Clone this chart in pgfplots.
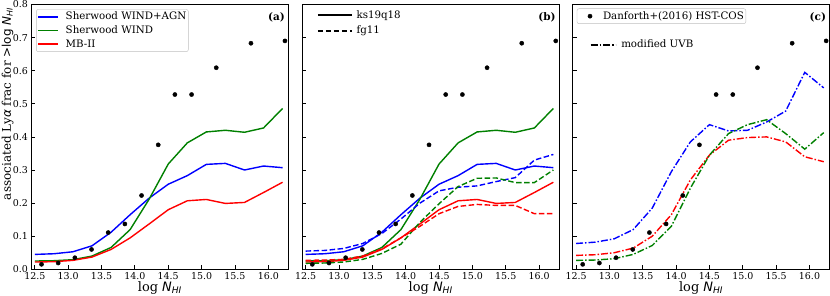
\documentclass[border=0pt]{standalone}
\usepackage{fontspec}
\setmainfont{DejaVu Serif}
\newfontfamily\dvs{DejaVu Sans}
\usepackage{pgfplots}
\usepackage{pgfplotstable}
\pgfplotsset{compat=1.18}

\definecolor{mgreen}{RGB}{0,128,0}

\pgfplotstableread{
x y
12.6 0.015
12.85 0.019
13.1 0.035
13.35 0.060
13.6 0.111
13.85 0.137
14.1 0.223
14.35 0.376
14.6 0.528
14.85 0.528
15.22 0.609
15.74 0.683
16.25 0.690
}\danforth

% columns: x, blue solid, green solid, red solid, blue dashed, green dashed, red dashed, blue dashdot, green dashdot, red dashdot
\pgfplotstableread{
x bs gs rs bd gd rd bc gc rc
12.5   0.045 0.025 0.022 0.055 0.018 0.027 0.078 0.027 0.042
12.786 0.047 0.026 0.023 0.057 0.019 0.028 0.082 0.028 0.044
13.071 0.053 0.029 0.027 0.063 0.022 0.030 0.092 0.032 0.050
13.357 0.071 0.040 0.037 0.078 0.030 0.040 0.120 0.045 0.064
13.643 0.112 0.066 0.060 0.108 0.048 0.062 0.185 0.072 0.100
13.929 0.165 0.120 0.095 0.152 0.076 0.095 0.295 0.130 0.165
14.214 0.215 0.212 0.137 0.200 0.142 0.130 0.385 0.245 0.270
14.5   0.257 0.318 0.180 0.237 0.198 0.168 0.437 0.345 0.345
14.786 0.283 0.382 0.207 0.248 0.250 0.190 0.418 0.410 0.390
15.071 0.317 0.415 0.211 0.252 0.275 0.196 0.420 0.437 0.398
15.357 0.320 0.420 0.199 0.265 0.276 0.193 0.445 0.452 0.400
15.643 0.300 0.414 0.202 0.277 0.262 0.193 0.478 0.410 0.385
15.929 0.312 0.427 0.232 0.330 0.262 0.168 0.595 0.363 0.340
16.214 0.307 0.486 0.263 0.347 0.300 0.168 0.548 0.413 0.325
}\sims

\tikzset{plabel/.style={font=\bfseries\fontsize{10.5}{12}\selectfont, inner sep=0pt, anchor=north east}}

\pgfplotsset{
  panel/.style={
    width=256.8bp, height=264.8bp, scale only axis,
    xmin=12.45, xmax=16.3, ymin=0, ymax=0.8,
    xtick={12.5,13,13.5,14,14.5,15,15.5,16},
    ytick={0,0.1,0.2,0.3,0.4,0.5,0.6,0.7,0.8},
    tick align=inside, tick pos=left,
    major tick length=4bp,
    axis line style={line width=0.9bp},
    every tick/.style={line width=0.8bp, black},
    /pgf/number format/assume math mode=true,
    ticklabel style={font=\fontsize{9.5}{10}\selectfont},
    xticklabel style={/pgf/number format/.cd, fixed, fixed zerofill, precision=1},
    yticklabel style={/pgf/number format/.cd, fixed, fixed zerofill, precision=1},
    xlabel={log {\dvs\itshape N\textsubscript{HI}}},
    xlabel style={font=\fontsize{13}{14}\selectfont, yshift=5.5bp},
    clip=false,
    legend cell align=left,
  },
  sim/.style={line width=1.4bp, no marks},
  dashedsim/.style={line width=1.4bp, no marks, dash pattern=on 5.5bp off 2.5bp},
  dotsim/.style={line width=1.4bp, no marks, dash pattern=on 7bp off 2bp on 1.5bp off 2bp},
  obs/.style={only marks, mark=*, mark size=2.1bp, black},
}

\begin{document}
\begin{tikzpicture}
% ---------------- (a)
\begin{axis}[panel, at={(0bp,0bp)},
  ylabel={associated Ly{\dvs\itshape α} frac for {\dvs >log \itshape N\textsubscript{HI}}},
  ylabel style={font=\fontsize{12}{14}\selectfont, at={(axis description cs:-0.1168,0.625)}, anchor=north, inner sep=0pt},
  legend style={at={(0.018,0.982)}, anchor=north west, draw=black!25, rounded corners=2bp,
    font=\fontsize{10.3}{12}\selectfont, inner xsep=1bp, inner ysep=1bp, row sep=0.6bp,
    nodes={text height=8.5bp, text depth=2.5bp, inner sep=1bp},
    /tikz/every odd column/.append style={column sep=6bp}},
  legend image code/.code={\draw[#1] (0bp,0bp) -- (20bp,0bp);},
]
\addplot[sim, blue] table[x=x, y=bs] {\sims};
\addlegendentry{Sherwood WIND+AGN}
\addplot[sim, mgreen] table[x=x, y=gs] {\sims};
\addlegendentry{Sherwood WIND}
\addplot[sim, red] table[x=x, y=rs] {\sims};
\addlegendentry{MB-II}
\addplot[obs, forget plot] table[x=x, y=y] {\danforth};
\node[plabel] at (rel axis cs:0.987,0.969) {(a)};
\end{axis}
% ---------------- (b)
\begin{axis}[panel, at={(270.8bp,0bp)}, yticklabels={},
  legend style={at={(0.057,0.985)}, anchor=north west, draw=none, fill=none,
    font=\fontsize{10.3}{12}\selectfont, inner sep=0pt, row sep=2.7bp,
    nodes={text height=8.5bp, text depth=2.5bp, inner sep=1bp},
    /tikz/every odd column/.append style={column sep=3bp}},
  legend image code/.code={\draw[#1] (0bp,0bp) -- (34bp,0bp);},
]
\addlegendimage{black, line width=1.4bp}
\addlegendentry{ks19q18}
\addlegendimage{black, line width=1.4bp, dash pattern=on 5.5bp off 2.5bp}
\addlegendentry{fg11}
\addplot[sim, blue, forget plot] table[x=x, y=bs] {\sims};
\addplot[sim, mgreen, forget plot] table[x=x, y=gs] {\sims};
\addplot[sim, red, forget plot] table[x=x, y=rs] {\sims};
\addplot[dashedsim, blue, forget plot] table[x=x, y=bd] {\sims};
\addplot[dashedsim, mgreen, forget plot] table[x=x, y=gd] {\sims};
\addplot[dashedsim, red, forget plot] table[x=x, y=rd] {\sims};
\addplot[obs, forget plot] table[x=x, y=y] {\danforth};
\node[plabel] at (rel axis cs:0.987,0.969) {(b)};
\end{axis}
% ---------------- (c)
\begin{axis}[panel, at={(541.2bp,0bp)}, yticklabels={},
  legend style={at={(0.016,0.985)}, anchor=north west, draw=black!25, rounded corners=2bp,
    font=\fontsize{10.3}{12}\selectfont, inner xsep=1bp, inner ysep=1bp,
    nodes={text height=8.5bp, text depth=2.5bp, inner sep=1bp},
    /tikz/every odd column/.append style={column sep=2bp}},
  legend image code/.code={\path[draw=none, fill=none] (0bp,0bp) -- (22bp,0bp); \draw[#1, /tikz/only marks] plot coordinates {(12bp,0bp)};},
]
\addplot[dotsim, blue, forget plot] table[x=x, y=bc] {\sims};
\addplot[dotsim, red, forget plot] table[x=x, y=rc] {\sims};
\addplot[dotsim, mgreen, forget plot] table[x=x, y=gc] {\sims};
\addplot[obs] table[x=x, y=y] {\danforth};
\addlegendentry{Danforth+(2016) HST-COS}
\node[plabel] at (rel axis cs:0.987,0.969) {(c)};
\end{axis}
\begin{axis}[at={(541.2bp,0bp)}, width=256.8bp, height=264.8bp, scale only axis,
  hide axis, xmin=0, xmax=1, ymin=0, ymax=1,
  legend style={at={(0.066,0.873)}, anchor=north west, draw=none, fill=none,
    font=\fontsize{10.3}{12}\selectfont, inner sep=0pt,
    nodes={text height=8.5bp, text depth=2.5bp, inner sep=1bp},
    /tikz/every odd column/.append style={column sep=4bp}},
  legend image code/.code={\draw[#1] (0bp,0bp) -- (25bp,0bp);},
]
\addlegendimage{black, line width=1.4bp, dash pattern=on 7bp off 2bp on 1.5bp off 2bp}
\addlegendentry{modified UVB}
\end{axis}
\pgfresetboundingbox
\path (-31.5bp,-26.7bp) rectangle (798.5bp,269.3bp);
\end{tikzpicture}
\end{document}
